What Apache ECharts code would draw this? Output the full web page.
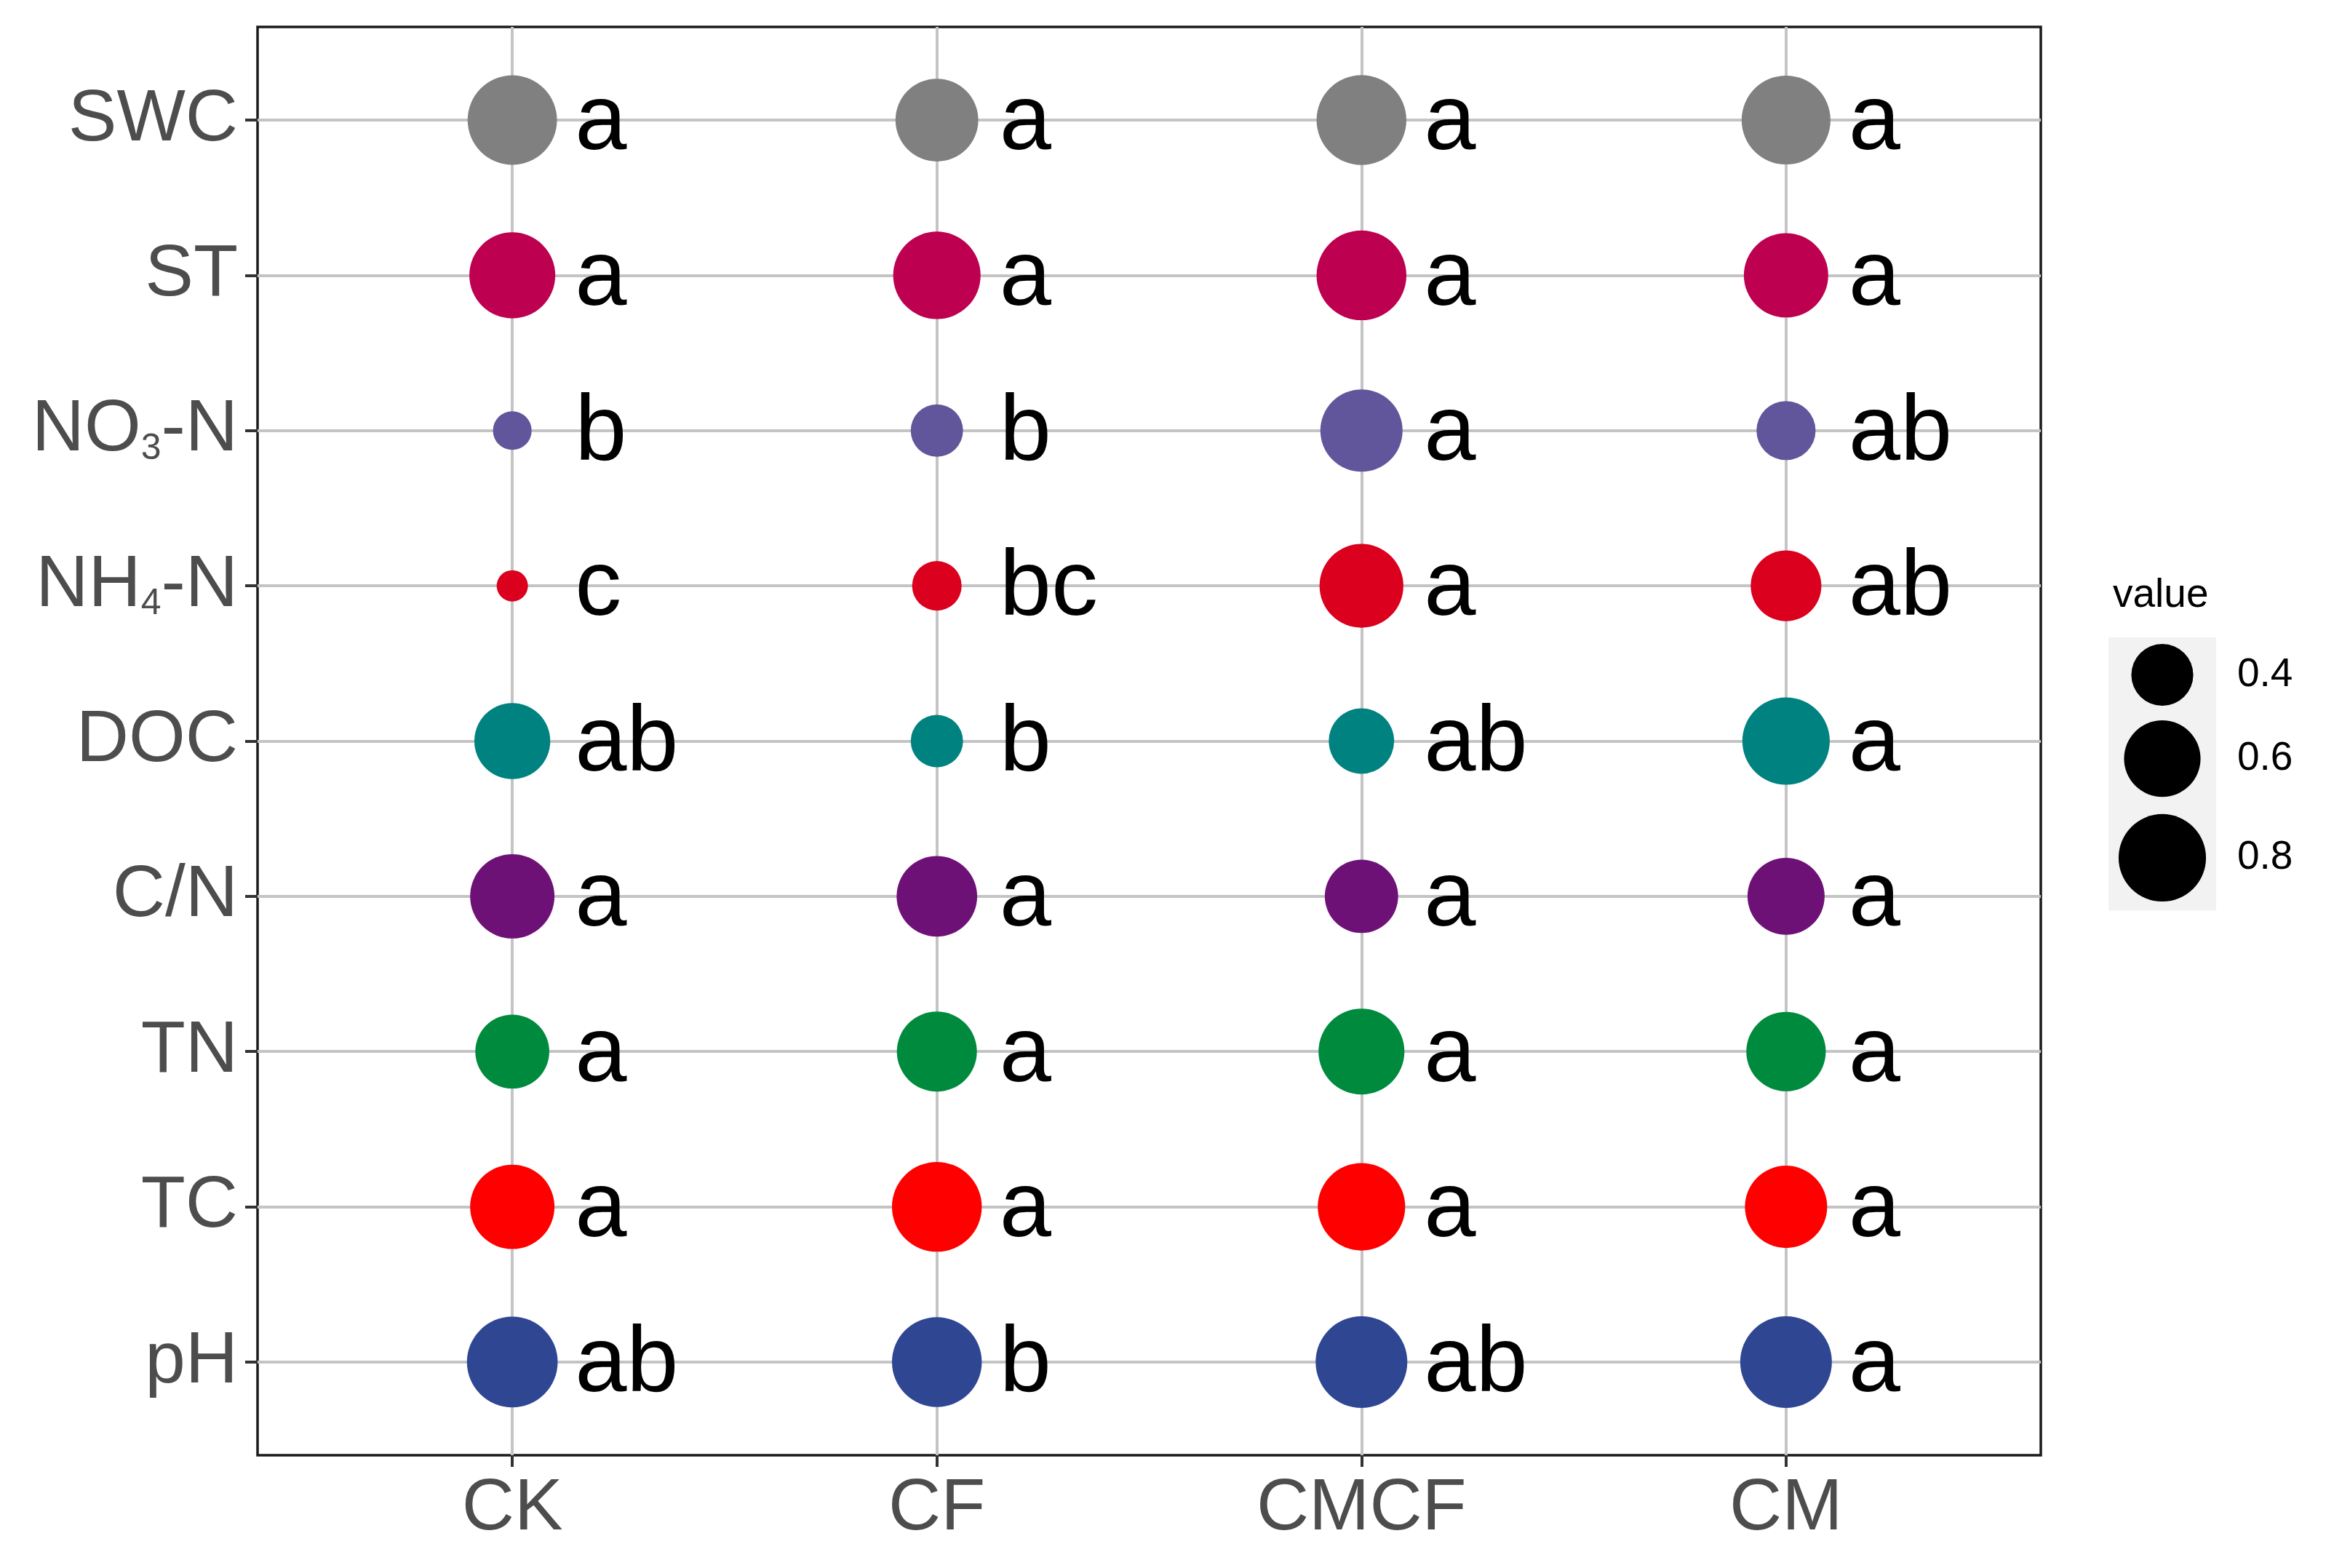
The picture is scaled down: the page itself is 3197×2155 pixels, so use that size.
<!DOCTYPE html>
<html>
<head>
<meta charset="utf-8">
<title>soil properties</title>
<script src="https://cdn.jsdelivr.net/npm/echarts@6/dist/echarts.min.js"></script>
<style>
	html, body { margin: 0; padding: 0; background: #fff; }
	#main { width: 3197px; height: 2155px; }
</style>
</head>
<body>
<div id="main"></div>
<script>
// treatments (x) and soil variables (y, top to bottom)
var treatments = [ 'CK', 'CF', 'CMCF', 'CM' ];
var variables = [ 'SWC', 'ST', 'NO3-N', 'NH4-N', 'DOC', 'C/N', 'TN', 'TC', 'pH' ];

// point size value per treatment, same order as variables
var valueCK = [ 0.84, 0.77, 0.24, 0.23, 0.59, 0.74, 0.56, 0.74, 0.87 ];
var valueCF = [ 0.71, 0.80, 0.31, 0.29, 0.31, 0.67, 0.66, 0.85, 0.85 ];
var valueCMCF = [ 0.85, 0.85, 0.70, 0.73, 0.44, 0.55, 0.77, 0.80, 0.89 ];
var valueCM = [ 0.83, 0.74, 0.37, 0.51, 0.80, 0.61, 0.65, 0.70, 0.89 ];

// significance letters
var lettersCK = [ 'a', 'a', 'b', 'c', 'ab', 'a', 'a', 'a', 'ab' ];
var lettersCF = [ 'a', 'a', 'b', 'bc', 'b', 'a', 'a', 'a', 'b' ];
var lettersCMCF = [ 'a', 'a', 'a', 'a', 'ab', 'a', 'a', 'a', 'ab' ];
var lettersCM = [ 'a', 'a', 'ab', 'ab', 'a', 'a', 'a', 'a', 'a' ];

// size legend breaks
var legendBreaks = [ 0.4, 0.6, 0.8 ];

var colors = [ '#808080', '#BD0050', '#61569B', '#DA001E', '#008280',
		'#6E1177', '#008A3E', '#FF0000', '#2F4693' ];

var FONT = 'Liberation Sans';
var values = [ valueCK, valueCF, valueCMCF, valueCM ];
var letters = [ lettersCK, lettersCF, lettersCMCF, lettersCM ];

// area scale like ggplot scale_size: diameter grows with sqrt of value
var sizeDomain = [ 0.23, 0.89 ];
var sizeRange = [ 43, 126 ];
function sizeScale(v) {
	var t = (v - sizeDomain[0]) / (sizeDomain[1] - sizeDomain[0]);
	t = Math.max(0, Math.min(1, t));
	return sizeRange[0] + (sizeRange[1] - sizeRange[0]) * Math.sqrt(t);
}

function range(n) {
	var r = [];
	for (var i = 0; i < n; i++) {
		r.push(i);
	}
	return r;
}

// y labels with subscript digits (NO3, NH4)
function yLabel(val) {
	var name = variables[val];
	if (name === undefined) {
		return '';
	}
	return '{m|' + name.replace(/(\d)/, '}{s|$1}{m|') + '}';
}

var series = [];
variables.forEach(function(name, row) {
	var data = [];
	treatments.forEach(function(t, col) {
		data.push([ col, row, values[col][row], letters[col][row] ]);
	});
	series.push({
		name : name,
		type : 'scatter',
		xAxisIndex : 0,
		yAxisIndex : 0,
		data : data,
		symbol : 'circle',
		symbolSize : function(d) {
			return sizeScale(d[2]);
		},
		itemStyle : {
			color : colors[row],
			opacity : 1
		},
		label : {
			show : true,
			position : 'inside',
			align : 'left',
			verticalAlign : 'middle',
			offset : [ 86, 5 ],
			formatter : function(p) {
				return p.data[3];
			},
			color : '#000',
			fontSize : 128,
			fontFamily : FONT
		},
		silent : true,
		z : 3
	});
});

// size legend: keys stacked, each key a bit taller than its circle
var keyHeights = legendBreaks.map(function(b) {
	return sizeScale(b) * 1.21;
});
var keyTotal = keyHeights.reduce(function(a, b) {
	return a + b;
}, 0);
var legendData = [];
var acc = 0;
legendBreaks.forEach(function(b, i) {
	legendData.push([ 0.5, acc + keyHeights[i] / 2, b ]);
	acc += keyHeights[i];
});
series.push({
	name : 'legend',
	type : 'scatter',
	xAxisIndex : 1,
	yAxisIndex : 1,
	data : legendData,
	symbol : 'circle',
	symbolSize : function(d) {
		return sizeScale(d[2]);
	},
	itemStyle : {
		color : '#000',
		opacity : 1
	},
	label : {
		show : true,
		position : 'inside',
		align : 'left',
		verticalAlign : 'middle',
		offset : [ 103, 0 ],
		formatter : function(p) {
			return p.data[2].toFixed(1);
		},
		color : '#000',
		fontSize : 55,
		fontFamily : FONT
	},
	silent : true
});

var gridLine = {
	show : true,
	lineStyle : {
		color : '#c4c4c4',
		width : 4
	}
};

var option = {
	animation : false,
	backgroundColor : '#ffffff',
	title : {
		text : 'value',
		left : 2899,
		top : 786,
		textStyle : {
			fontSize : 55,
			fontWeight : 'normal',
			color : '#000',
			fontFamily : FONT
		}
	},
	grid : [ {
		left : 354,
		top : 37,
		width : 2451,
		height : 1963,
		show : true,
		backgroundColor : '#ffffff',
		borderColor : '#1a1a1a',
		borderWidth : 3.5,
		z : 0
	}, {
		left : 2898,
		top : 876,
		width : 148,
		height : keyTotal,
		show : true,
		backgroundColor : '#f2f2f2',
		borderWidth : 0
	} ],
	xAxis : [ {
		type : 'value',
		gridIndex : 0,
		min : -0.6,
		max : treatments.length - 0.4,
		axisLine : {
			show : false,
			onZero : false
		},
		axisTick : {
			show : true,
			length : 16,
			customValues : range(treatments.length),
			lineStyle : {
				color : '#333333',
				width : 4
			}
		},
		axisLabel : {
			customValues : range(treatments.length),
			margin : 24,
			color : '#4d4d4d',
			fontSize : 100,
			fontFamily : FONT,
			formatter : function(v) {
				return treatments[v] || '';
			}
		},
		splitLine : gridLine
	}, {
		type : 'value',
		gridIndex : 1,
		min : 0,
		max : 1,
		show : false
	} ],
	yAxis : [ {
		type : 'value',
		gridIndex : 0,
		inverse : true,
		min : -0.6,
		max : variables.length - 0.4,
		axisLine : {
			show : false,
			onZero : false
		},
		axisTick : {
			show : true,
			length : 17,
			customValues : range(variables.length),
			lineStyle : {
				color : '#333333',
				width : 4
			}
		},
		axisLabel : {
			customValues : range(variables.length),
			margin : 27,
			formatter : yLabel,
			rich : {
				m : {
					fontSize : 100,
					lineHeight : 100,
					color : '#4d4d4d',
					fontFamily : FONT
				},
				s : {
					fontSize : 50,
					lineHeight : 66,
					verticalAlign : 'bottom',
					color : '#4d4d4d',
					fontFamily : FONT
				}
			}
		},
		splitLine : gridLine
	}, {
		type : 'value',
		gridIndex : 1,
		inverse : true,
		min : 0,
		max : keyTotal,
		show : false
	} ],
	series : series
};

var chart = echarts.init(document.getElementById('main'));
chart.setOption(option);
</script>
</body>
</html>
